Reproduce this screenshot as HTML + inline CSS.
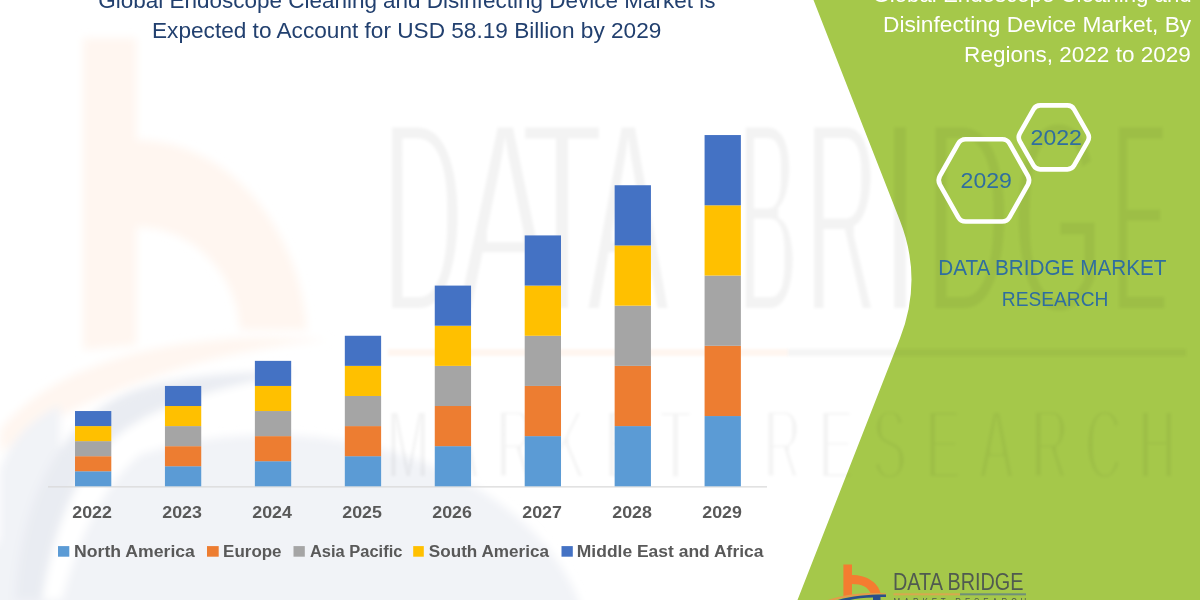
<!DOCTYPE html>
<html><head><meta charset="utf-8">
<style>
html,body{margin:0;padding:0;background:#fff;}
body{width:1200px;height:600px;overflow:hidden;position:relative;}
svg{position:absolute;left:0;top:0;display:block;will-change:transform;}
text{font-family:"Liberation Sans",sans-serif;}
</style></head><body>
<svg width="1200" height="600" viewBox="0 0 1200 600">
<defs>
<filter id="bl" x="-10%" y="-10%" width="120%" height="120%"><feGaussianBlur stdDeviation="4"/></filter>
<filter id="er" x="-5%" y="-10%" width="110%" height="120%"><feMorphology operator="erode" radius="0 4.5"/><feGaussianBlur stdDeviation="1.5"/></filter>
<filter id="er2" x="-5%" y="-10%" width="110%" height="120%"><feMorphology operator="erode" radius="0 3"/><feGaussianBlur stdDeviation="1.8"/></filter>
<filter id="bl2" x="-5%" y="-20%" width="110%" height="140%"><feGaussianBlur stdDeviation="1.5"/></filter>
<filter id="er3" x="-5%" y="-10%" width="110%" height="120%"><feMorphology operator="erode" radius="0 0.4"/></filter>
</defs>
<rect width="1200" height="600" fill="#ffffff"/>
<g filter="url(#bl)"><path d="M83,38 L136.5,38 L136.5,140 C230,140 300,230 307,330 L240,330 C236,270 190,227 136.5,227 L136.5,345 L83,350 Z" fill="#fff6f0"/><path d="M0,430 C40,380 120,345 240,338 C270,337 300,338 330,340 C250,346 120,372 0,452 Z" fill="#fff6f0"/><ellipse cx="270" cy="660" rx="320" ry="225" fill="#f1f3f7"/><path d="M0,470 C10,440 30,420 60,405 L60,600 L0,600 Z" fill="#f1f3f7"/><path d="M15,600 C20,500 60,420 130,392 C170,378 220,372 300,372 C230,385 170,400 128,428 C80,460 55,520 42,600 Z" fill="#e9ecf2"/><path d="M42,600 C55,520 80,460 128,428 C170,400 230,385 300,372 C330,372 360,378 380,385 C300,392 220,410 160,440 C110,470 80,530 62,600 Z" fill="#ffffff"/></g>
<path d="M1200,0 L813.5,0 L899.9,220.6 Q923.1,279.6 899.9,338.6 L797.5,600 L1200,600 Z" fill="#a5c84a"/>
<g fill="#000" fill-opacity="0.048" filter="url(#er)">
<text transform="translate(423,313) scale(0.4,1)" font-size="277" text-anchor="middle">D</text><text transform="translate(505,313) scale(0.52,1)" font-size="277" text-anchor="middle">A</text><text transform="translate(562,313) scale(0.47,1)" font-size="277" text-anchor="middle">T</text><text transform="translate(628,313) scale(0.45,1)" font-size="277" text-anchor="middle">A</text><text transform="translate(768,313) scale(0.32,1)" font-size="277" text-anchor="middle">B</text><text transform="translate(842,313) scale(0.36,1)" font-size="277" text-anchor="middle">R</text><text transform="translate(900,313) scale(0.45,1)" font-size="277" text-anchor="middle">I</text><text transform="translate(968,313) scale(0.42,1)" font-size="277" text-anchor="middle">D</text><text transform="translate(1058,313) scale(0.42,1)" font-size="277" text-anchor="middle">G</text><text transform="translate(1140,313) scale(0.3,1)" font-size="277" text-anchor="middle">E</text>
</g>
<g fill="#000" fill-opacity="0.048" filter="url(#er2)">
<text transform="translate(408.0,479) scale(0.5,1)" font-size="100" text-anchor="middle">M</text><text transform="translate(461.5,479) scale(0.5,1)" font-size="100" text-anchor="middle">A</text><text transform="translate(515.0,479) scale(0.5,1)" font-size="100" text-anchor="middle">R</text><text transform="translate(568.5,479) scale(0.5,1)" font-size="100" text-anchor="middle">K</text><text transform="translate(622.0,479) scale(0.5,1)" font-size="100" text-anchor="middle">E</text><text transform="translate(675.5,479) scale(0.5,1)" font-size="100" text-anchor="middle">T</text><text transform="translate(782.5,479) scale(0.5,1)" font-size="100" text-anchor="middle">R</text><text transform="translate(836.0,479) scale(0.5,1)" font-size="100" text-anchor="middle">E</text><text transform="translate(889.5,479) scale(0.5,1)" font-size="100" text-anchor="middle">S</text><text transform="translate(943.0,479) scale(0.5,1)" font-size="100" text-anchor="middle">E</text><text transform="translate(996.5,479) scale(0.5,1)" font-size="100" text-anchor="middle">A</text><text transform="translate(1050.0,479) scale(0.5,1)" font-size="100" text-anchor="middle">R</text><text transform="translate(1103.5,479) scale(0.5,1)" font-size="100" text-anchor="middle">C</text><text transform="translate(1157.0,479) scale(0.5,1)" font-size="100" text-anchor="middle">H</text>
</g>
<rect x="388" y="349" width="400" height="7" fill="#fff6f0" filter="url(#bl2)"/>
<rect x="788" y="349" width="398" height="7" fill="#000" fill-opacity="0.04" filter="url(#bl2)"/>
<line x1="48" y1="486.8" x2="767" y2="486.8" stroke="#d9d9d9" stroke-width="1.2"/>
<rect x="75.00" y="471.25" width="36.3" height="15.05" fill="#5b9bd5"/><rect x="75.00" y="456.19" width="36.3" height="15.05" fill="#ed7d31"/><rect x="75.00" y="441.14" width="36.3" height="15.05" fill="#a5a5a5"/><rect x="75.00" y="426.09" width="36.3" height="15.05" fill="#ffc000"/><rect x="75.00" y="411.03" width="36.3" height="15.05" fill="#4472c4"/><rect x="164.94" y="466.23" width="36.3" height="20.07" fill="#5b9bd5"/><rect x="164.94" y="446.16" width="36.3" height="20.07" fill="#ed7d31"/><rect x="164.94" y="426.09" width="36.3" height="20.07" fill="#a5a5a5"/><rect x="164.94" y="406.01" width="36.3" height="20.07" fill="#ffc000"/><rect x="164.94" y="385.94" width="36.3" height="20.07" fill="#4472c4"/><rect x="254.88" y="461.21" width="36.3" height="25.09" fill="#5b9bd5"/><rect x="254.88" y="436.12" width="36.3" height="25.09" fill="#ed7d31"/><rect x="254.88" y="411.03" width="36.3" height="25.09" fill="#a5a5a5"/><rect x="254.88" y="385.94" width="36.3" height="25.09" fill="#ffc000"/><rect x="254.88" y="360.85" width="36.3" height="25.09" fill="#4472c4"/><rect x="344.82" y="456.19" width="36.3" height="30.11" fill="#5b9bd5"/><rect x="344.82" y="426.09" width="36.3" height="30.11" fill="#ed7d31"/><rect x="344.82" y="395.98" width="36.3" height="30.11" fill="#a5a5a5"/><rect x="344.82" y="365.87" width="36.3" height="30.11" fill="#ffc000"/><rect x="344.82" y="335.76" width="36.3" height="30.11" fill="#4472c4"/><rect x="434.76" y="446.16" width="36.3" height="40.14" fill="#5b9bd5"/><rect x="434.76" y="406.01" width="36.3" height="40.14" fill="#ed7d31"/><rect x="434.76" y="365.87" width="36.3" height="40.14" fill="#a5a5a5"/><rect x="434.76" y="325.73" width="36.3" height="40.14" fill="#ffc000"/><rect x="434.76" y="285.59" width="36.3" height="40.14" fill="#4472c4"/><rect x="524.70" y="436.12" width="36.3" height="50.18" fill="#5b9bd5"/><rect x="524.70" y="385.94" width="36.3" height="50.18" fill="#ed7d31"/><rect x="524.70" y="335.76" width="36.3" height="50.18" fill="#a5a5a5"/><rect x="524.70" y="285.59" width="36.3" height="50.18" fill="#ffc000"/><rect x="524.70" y="235.41" width="36.3" height="50.18" fill="#4472c4"/><rect x="614.64" y="426.09" width="36.3" height="60.21" fill="#5b9bd5"/><rect x="614.64" y="365.87" width="36.3" height="60.21" fill="#ed7d31"/><rect x="614.64" y="305.66" width="36.3" height="60.21" fill="#a5a5a5"/><rect x="614.64" y="245.44" width="36.3" height="60.21" fill="#ffc000"/><rect x="614.64" y="185.23" width="36.3" height="60.21" fill="#4472c4"/><rect x="704.58" y="416.05" width="36.3" height="70.25" fill="#5b9bd5"/><rect x="704.58" y="345.80" width="36.3" height="70.25" fill="#ed7d31"/><rect x="704.58" y="275.55" width="36.3" height="70.25" fill="#a5a5a5"/><rect x="704.58" y="205.30" width="36.3" height="70.25" fill="#ffc000"/><rect x="704.58" y="135.05" width="36.3" height="70.25" fill="#4472c4"/>
<rect x="58.0" y="546.1" width="11.30" height="10.6" fill="#5b9bd5"/><rect x="207.0" y="546.1" width="11.70" height="10.6" fill="#ed7d31"/><rect x="293.5" y="546.1" width="11.30" height="10.6" fill="#a5a5a5"/><rect x="413.2" y="546.1" width="10.60" height="10.6" fill="#ffc000"/><rect x="561.5" y="546.1" width="11.30" height="10.6" fill="#4472c4"/>
<path d="M1087.78,133.43 Q1090.00,137.35 1087.78,141.27 L1074.12,165.41 Q1071.90,169.33 1067.40,169.33 L1040.20,169.33 Q1035.70,169.33 1033.48,165.41 L1019.82,141.27 Q1017.60,137.35 1019.82,133.43 L1033.48,109.29 Q1035.70,105.37 1040.20,105.37 L1067.40,105.37 Q1071.90,105.37 1074.12,109.29 Z" fill="none" stroke="#fff" stroke-width="4.6" stroke-linejoin="round"/>
<path d="M1027.94,176.00 Q1030.40,180.35 1027.94,184.70 L1009.61,217.07 Q1007.15,221.43 1002.15,221.43 L965.65,221.43 Q960.65,221.43 958.19,217.07 L939.86,184.70 Q937.40,180.35 939.86,176.00 L958.19,143.63 Q960.65,139.27 965.65,139.27 L1002.15,139.27 Q1007.15,139.27 1009.61,143.63 Z" fill="none" stroke="#fff" stroke-width="4.6" stroke-linejoin="round"/>
<!-- bottom logo -->
<g>
<path d="M843.4,564.4 L852,564.4 L852,574.9 C866,574.9 878,582 880.5,593 L870.5,593 C868,587 862,583.9 852,583.9 L852,596 L843.4,597 Z" fill="#f47c30"/>
<path d="M828,600 C845,594 865,592.5 886,593.2 L886,594.4 C866,594.4 848,596.5 834,600 Z" fill="#e59a4a"/>
<path d="M838,600 C852,596 868,594.5 886,594.6 L886,597 L880.5,597 L880.5,600 L873,600 L873,597.5 C864,597.8 856,598.6 850,600 Z" fill="#2a4f8a"/>
<text x="893" y="590.1" font-size="23.3" fill="#505a50" textLength="130.5" lengthAdjust="spacingAndGlyphs" filter="url(#er3)">DATA BRIDGE</text>
<rect x="893.5" y="593.3" width="66.5" height="2" fill="#d8a84e"/>
<rect x="960" y="593.3" width="66" height="2" fill="#6f8f78"/>
<text transform="translate(893.5,606) scale(0.8,1)" font-size="10" fill="#505a50" textLength="166" lengthAdjust="spacing">MARKET RESEARCH</text>
</g>
<text id="t1" x="98.26" y="8.00" font-size="21.95" font-weight="normal" fill="#22406f" textLength="617.14" lengthAdjust="spacingAndGlyphs" >Global Endoscope Cleaning and Disinfecting Device Market is</text><text id="t2" x="152.00" y="38.25" font-size="21.95" font-weight="normal" fill="#22406f" textLength="509.34" lengthAdjust="spacingAndGlyphs" >Expected to Account for USD 58.19 Billion by 2029</text><text id="g1" x="872.40" y="1.75" font-size="21.74" font-weight="normal" fill="#ffffff" textLength="319.34" lengthAdjust="spacingAndGlyphs" >Global Endoscope Cleaning and</text><text id="g2" x="882.98" y="31.70" font-size="21.88" font-weight="normal" fill="#ffffff" textLength="308.24" lengthAdjust="spacingAndGlyphs" >Disinfecting Device Market, By</text><text id="g3" x="964.14" y="61.60" font-size="21.26" font-weight="normal" fill="#ffffff" textLength="226.70" lengthAdjust="spacingAndGlyphs" >Regions, 2022 to 2029</text><text id="h1" x="1030.60" y="145.30" font-size="21.40" font-weight="normal" fill="#2f6e9f" textLength="51.30" lengthAdjust="spacingAndGlyphs" >2022</text><text id="h2" x="960.60" y="188.00" font-size="21.81" font-weight="normal" fill="#2f6e9f" textLength="51.30" lengthAdjust="spacingAndGlyphs" >2029</text><text id="d1" x="938.20" y="275.40" font-size="21.40" font-weight="normal" fill="#2f6e9f" textLength="228.30" lengthAdjust="spacingAndGlyphs" >DATA BRIDGE MARKET</text><text id="d2" x="1001.82" y="305.80" font-size="20.85" font-weight="normal" fill="#2f6e9f" textLength="106.58" lengthAdjust="spacingAndGlyphs" >RESEARCH</text><text id="x0" x="72.24" y="518.30" font-size="16.60" font-weight="bold" fill="#595959" textLength="39.68" lengthAdjust="spacingAndGlyphs" >2022</text><text id="x1" x="162.24" y="518.30" font-size="16.60" font-weight="bold" fill="#595959" textLength="39.68" lengthAdjust="spacingAndGlyphs" >2023</text><text id="x2" x="252.24" y="518.30" font-size="16.60" font-weight="bold" fill="#595959" textLength="39.68" lengthAdjust="spacingAndGlyphs" >2024</text><text id="x3" x="342.24" y="518.30" font-size="16.60" font-weight="bold" fill="#595959" textLength="39.68" lengthAdjust="spacingAndGlyphs" >2025</text><text id="x4" x="432.24" y="518.30" font-size="16.60" font-weight="bold" fill="#595959" textLength="39.68" lengthAdjust="spacingAndGlyphs" >2026</text><text id="x5" x="522.24" y="518.30" font-size="16.60" font-weight="bold" fill="#595959" textLength="39.68" lengthAdjust="spacingAndGlyphs" >2027</text><text id="x6" x="612.24" y="518.30" font-size="16.60" font-weight="bold" fill="#595959" textLength="39.68" lengthAdjust="spacingAndGlyphs" >2028</text><text id="x7" x="702.24" y="518.30" font-size="16.60" font-weight="bold" fill="#595959" textLength="39.68" lengthAdjust="spacingAndGlyphs" >2029</text><text id="l0" x="74.10" y="556.60" font-size="15.78" font-weight="bold" fill="#595959" textLength="120.84" lengthAdjust="spacingAndGlyphs" >North America</text><text id="l1" x="223.10" y="556.60" font-size="15.78" font-weight="bold" fill="#595959" textLength="58.46" lengthAdjust="spacingAndGlyphs" >Europe</text><text id="l2" x="309.94" y="556.60" font-size="15.78" font-weight="bold" fill="#595959" textLength="92.46" lengthAdjust="spacingAndGlyphs" >Asia Pacific</text><text id="l3" x="428.88" y="556.60" font-size="15.78" font-weight="bold" fill="#595959" textLength="120.06" lengthAdjust="spacingAndGlyphs" >South America</text><text id="l4" x="576.82" y="556.60" font-size="15.78" font-weight="bold" fill="#595959" textLength="186.68" lengthAdjust="spacingAndGlyphs" >Middle East and Africa</text>
</svg>
</body></html>
